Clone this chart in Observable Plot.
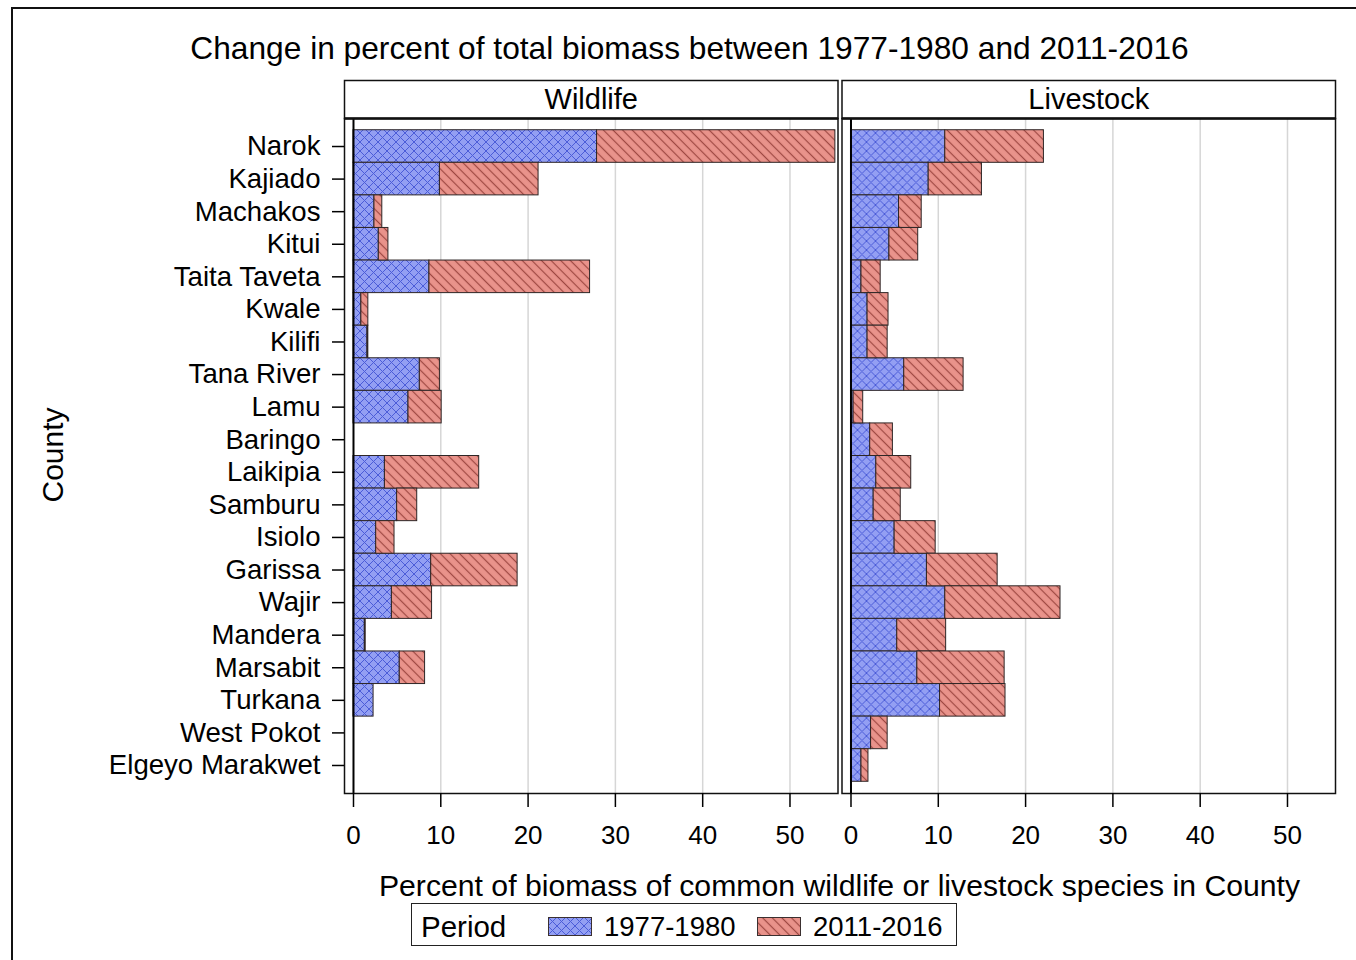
<!DOCTYPE html>
<html>
<head>
<meta charset="utf-8">
<script src="https://cdn.jsdelivr.net/npm/d3@7"></script>
<script src="https://cdn.jsdelivr.net/npm/@observablehq/plot@0.6"></script>
<style>
  html, body { margin: 0; padding: 0; background: white; overflow: hidden; }
  body { width: 1356px; height: 960px; position: relative; font-family: "Liberation Sans", Arial, sans-serif; color: black; }
  .abs { position: absolute; white-space: nowrap; }
</style>
</head>
<body>
<svg width="0" height="0" style="position:absolute;left:0;top:0">
  <defs>
    <pattern id="hatchBlue" patternUnits="userSpaceOnUse" width="9" height="9">
      <rect width="9" height="9" fill="#939ff3"></rect>
      <path d="M0,0L9,9M9,0L0,9" stroke="#4b5cd8" stroke-width="1"></path>
    </pattern>
    <pattern id="hatchRed" patternUnits="userSpaceOnUse" width="6.8" height="6.8" patternTransform="rotate(-45)">
      <rect width="6.8" height="6.8" fill="#e9938b"></rect>
      <line x1="3.4" y1="0" x2="3.4" y2="6.8" stroke="#9e4842" stroke-width="1.2"></line>
    </pattern>
  </defs>
</svg>
<div id="root"></div>
<script>
// ---- data ----
const counties = ["Narok", "Kajiado", "Machakos", "Kitui", "Taita Taveta", "Kwale", "Kilifi", "Tana River", "Lamu", "Baringo",
  "Laikipia", "Samburu", "Isiolo", "Garissa", "Wajir", "Mandera", "Marsabit", "Turkana", "West Pokot", "Elgeyo Marakwet"];
const panels = ["Wildlife", "Livestock"];
const periods = ["1977-1980", "2011-2016"];
const wildlife1977 = [27.9, 9.9, 2.4, 2.9, 8.7, 0.9, 1.6, 7.6, 6.3, 0, 3.6, 5.0, 2.6, 8.9, 4.4, 1.3, 5.3, 2.3, 0, 0];
const wildlife2011 = [27.3, 11.3, 0.9, 1.1, 18.4, 0.8, 0.1, 2.3, 3.8, 0, 10.8, 2.3, 2.1, 9.9, 4.6, 0.1, 2.9, 0, 0, 0];
const livestock1977 = [10.8, 8.9, 5.5, 4.4, 1.2, 1.9, 1.9, 6.1, 0.3, 2.2, 2.9, 2.6, 5.0, 8.7, 10.8, 5.3, 7.6, 10.2, 2.3, 1.2];
const livestock2011 = [11.3, 6.1, 2.6, 3.3, 2.2, 2.4, 2.3, 6.8, 1.1, 2.6, 4.0, 3.1, 4.7, 8.1, 13.2, 5.6, 10.0, 7.5, 1.9, 0.8];
const xTicks = [0, 10, 20, 30, 40, 50];
const titleText = "Change in percent of total biomass between 1977-1980 and 2011-2016";
const xLabel = "Percent of biomass of common wildlife or livestock species in County";
const yLabel = "County";
const legendTitle = "Period";

// ---- table ----
const series = [
  ["Wildlife", "1977-1980", wildlife1977], ["Wildlife", "2011-2016", wildlife2011],
  ["Livestock", "1977-1980", livestock1977], ["Livestock", "2011-2016", livestock2011]
];
const rows = [];
for (const [panel, period, vals] of series) {
  vals.forEach((v, i) => { if (v > 0) rows.push({panel, period, county: counties[i], value: v}); });
}

const root = document.getElementById("root");
const FONT = "'Liberation Sans', Arial, sans-serif";

function addText(txt, left, top, size, extra = {}) {
  const d = document.createElement("div");
  d.className = "abs";
  d.textContent = txt;
  Object.assign(d.style, {left: left + "px", top: top + "px", fontSize: size + "px", lineHeight: size + "px"}, extra);
  root.appendChild(d);
  return d;
}

// outer border (only top/left visible in the picture)
const border = document.createElement("div");
Object.assign(border.style, {position: "absolute", left: "11px", top: "7px", width: "1400px", height: "1000px", border: "2px solid #111"});
root.appendChild(border);

// title
addText(titleText, 0, 33, 31.7, {width: "1379px", textAlign: "center"});

// plot
const SVG_TOP = 70;
const H = 835;
const MT = 48, MB = 112;
const panelH = H - MT - MB;
const chart = Plot.plot({
  width: 1356,
  height: H,
  marginTop: MT,
  marginBottom: MB,
  marginLeft: 344,
  marginRight: 21,
  style: {fontFamily: FONT, fontSize: "26px", color: "black", background: "transparent", overflow: "visible"},
  fx: {domain: panels, paddingInner: 0.00804, paddingOuter: 0, round: false, axis: null, label: null},
  x: {domain: [-1.03, 55.5], axis: null, label: null},
  y: {domain: counties, paddingInner: 0, paddingOuter: 0.36, round: false, axis: null, label: null},
  color: {type: "ordinal", domain: periods, range: ["url(#hatchBlue)", "url(#hatchRed)"]},
  marks: [
    Plot.gridX({ticks: xTicks.filter(d => d > 0), stroke: "#d6d6d6", strokeOpacity: 1, strokeWidth: 1.5}),
    Plot.barX(rows, {x: "value", y: "county", fx: "panel", fill: "period", stroke: "#2e2626", strokeWidth: 1, order: periods}),
    Plot.ruleX([0], {stroke: "black", strokeWidth: 2}),
    Plot.frame({stroke: "#111", strokeWidth: 1.5}),
    Plot.frame({stroke: "#111", strokeWidth: 1.5, insetTop: -38, insetBottom: panelH}),
    Plot.frame({fill: "#111", stroke: null, insetTop: -1.2, insetBottom: panelH - 1.2}),
    Plot.text(panels, {fx: d => d, text: d => d, frameAnchor: "top", lineAnchor: "middle", dy: -19, fontSize: 29, fill: "black"}),
    Plot.axisX({ticks: xTicks, tickSize: 14, tickPadding: 18, fontSize: 26, label: null, strokeWidth: 1.5}),
    Plot.axisY({tickSize: 12, tickPadding: 12, fontSize: 27.6, label: null, strokeWidth: 1.5})
  ]
});
chart.style.position = "absolute";
chart.style.left = "0px";
chart.style.top = SVG_TOP + "px";
root.appendChild(chart);

// axis labels
addText(xLabel, 339.5, 871, 30.2, {width: "1000px", textAlign: "center"});
addText(yLabel, 52.5 - 100, 455 - 15, 30, {width: "200px", textAlign: "center", transform: "rotate(-90deg)", transformOrigin: "50% 50%"});

// legend
const leg = document.createElement("div");
Object.assign(leg.style, {position: "absolute", left: "411px", top: "903px", width: "544px", height: "41px", border: "1.5px solid #222"});
root.appendChild(leg);
addText(legendTitle, 421, 911.5, 29.5);
const swatches = [[periods[0], "hatchBlue", 548, 604], [periods[1], "hatchRed", 757, 813]];
for (const [lab, pid, sx, tx] of swatches) {
  const s = d3.create("svg").attr("width", 44).attr("height", 19)
    .style("position", "absolute").style("left", sx + "px").style("top", "917px");
  s.append("rect").attr("x", 0.5).attr("y", 0.5).attr("width", 43).attr("height", 18)
    .attr("fill", `url(#${pid})`).attr("stroke", "#3b3030").attr("stroke-width", 1);
  root.appendChild(s.node());
  addText(lab, tx, 912.5, 27.5);
}
</script>
</body>
</html>
